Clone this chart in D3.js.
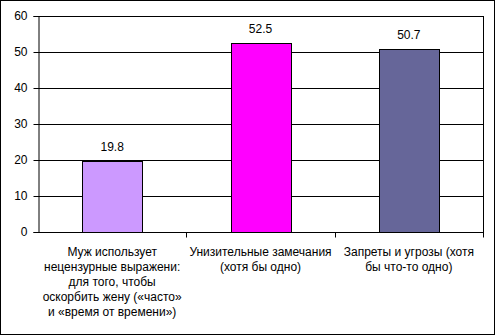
<!DOCTYPE html>
<html>
<head>
<meta charset="utf-8">
<script src="https://cdn.jsdelivr.net/npm/d3@7"></script>
<style>
  body { margin: 0; background: #fff; }
  svg text { font-family: Arial, "Liberation Sans", sans-serif; font-size: 12px; fill: #000; }
</style>
</head>
<body>
<div id="chart"></div>
<script>
// data
const categories = ['cat1', 'cat2', 'cat3'];
const categoryLines = [
  ['Муж использует', 'нецензурные выражени:', 'для того, чтобы', 'оскорбить жену («часто»', 'и «время от времени»)'],
  ['Унизительные замечания', '(хотя бы одно)'],
  ['Запреты и угрозы (хотя', 'бы что-то одно)']
];
const values = [19.8, 52.5, 50.7];
const barColors = ['#CC99FF', '#FF00FF', '#666699'];
const yTicks = [0, 10, 20, 30, 40, 50, 60];

const width = 495, height = 335;
const margin = { left: 38, right: 12, top: 16, bottom: 103 };

const svg = d3.select('#chart').append('svg')
  .attr('width', width)
  .attr('height', height);

// outer chart border
svg.append('rect')
  .attr('x', 0.5).attr('y', 0.5)
  .attr('width', width - 1).attr('height', height - 1)
  .attr('fill', '#fff').attr('stroke', '#000');

const x = d3.scaleBand()
  .domain(categories)
  .range([margin.left, width - margin.right])
  .paddingInner(0).paddingOuter(0);

const y = d3.scaleLinear()
  .domain([0, 60])
  .range([height - margin.bottom, margin.top]);

const plots = svg.append('g').attr('class', 'plots');

// grid lines
plots.selectAll('line.grid')
  .data(yTicks.filter(d => d > 0))
  .enter().append('line')
  .attr('class', 'grid')
  .attr('x1', margin.left).attr('x2', width - margin.right)
  .attr('y1', d => Math.round(y(d)) + 0.5).attr('y2', d => Math.round(y(d)) + 0.5)
  .attr('stroke', '#000');

// right plot border
plots.append('line')
  .attr('x1', width - margin.right + 0.5).attr('x2', width - margin.right + 0.5)
  .attr('y1', y(60)).attr('y2', y(0))
  .attr('stroke', '#000');

// bars
const barW = 60;
plots.selectAll('rect.bar')
  .data(values)
  .enter().append('rect')
  .attr('class', 'bar')
  .attr('x', (d, i) => Math.round(x(categories[i]) + x.bandwidth() / 2 - barW / 2) + 0.5)
  .attr('y', d => Math.round(y(d)) + 0.5)
  .attr('width', barW)
  .attr('height', d => Math.round(y(0)) - Math.round(y(d)))
  .attr('fill', (d, i) => barColors[i])
  .attr('stroke', '#000');

// value labels
plots.selectAll('text.val')
  .data(values)
  .enter().append('text')
  .attr('class', 'val')
  .attr('x', (d, i) => x(categories[i]) + x.bandwidth() / 2)
  .attr('y', d => y(d) - 10)
  .attr('text-anchor', 'middle')
  .text(d => d.toFixed(1));

// y axis
const yAxis = d3.axisLeft(y).tickValues(yTicks).tickSize(5).tickPadding(6).tickFormat(d3.format('d'));
const yg = svg.append('g')
  .attr('transform', `translate(${margin.left + 0.5},0)`)
  .call(yAxis);
yg.select('.domain').attr('stroke', '#000');
yg.selectAll('.tick line').attr('stroke', '#000');
yg.selectAll('.tick text').attr('font-size', null).attr('font-family', null);
yg.attr('font-size', null).attr('font-family', null);

// x axis: ticks at category boundaries
const xg = svg.append('g')
  .attr('transform', `translate(0,${Math.round(y(0)) + 0.5})`);
xg.append('line')
  .attr('x1', margin.left).attr('x2', width - margin.right + 1)
  .attr('stroke', '#000');
xg.selectAll('line.tick')
  .data(categories)
  .enter().append('line')
  .attr('class', 'tick')
  .attr('x1', d => Math.round(x(d) + x.bandwidth()) + 0.5)
  .attr('x2', d => Math.round(x(d) + x.bandwidth()) + 0.5)
  .attr('y1', 0).attr('y2', 5)
  .attr('stroke', '#000');

// category labels
const lab = xg.selectAll('text.cat')
  .data(categories)
  .enter().append('text')
  .attr('class', 'cat')
  .attr('text-anchor', 'middle')
  .attr('x', d => x(d) + x.bandwidth() / 2);
lab.selectAll('tspan')
  .data((d, i) => categoryLines[i])
  .enter().append('tspan')
  .attr('x', function () { return this.parentNode.getAttribute('x'); })
  .attr('y', (d, j) => 23 + j * 15)
  .text(d => d);
</script>
</body>
</html>
